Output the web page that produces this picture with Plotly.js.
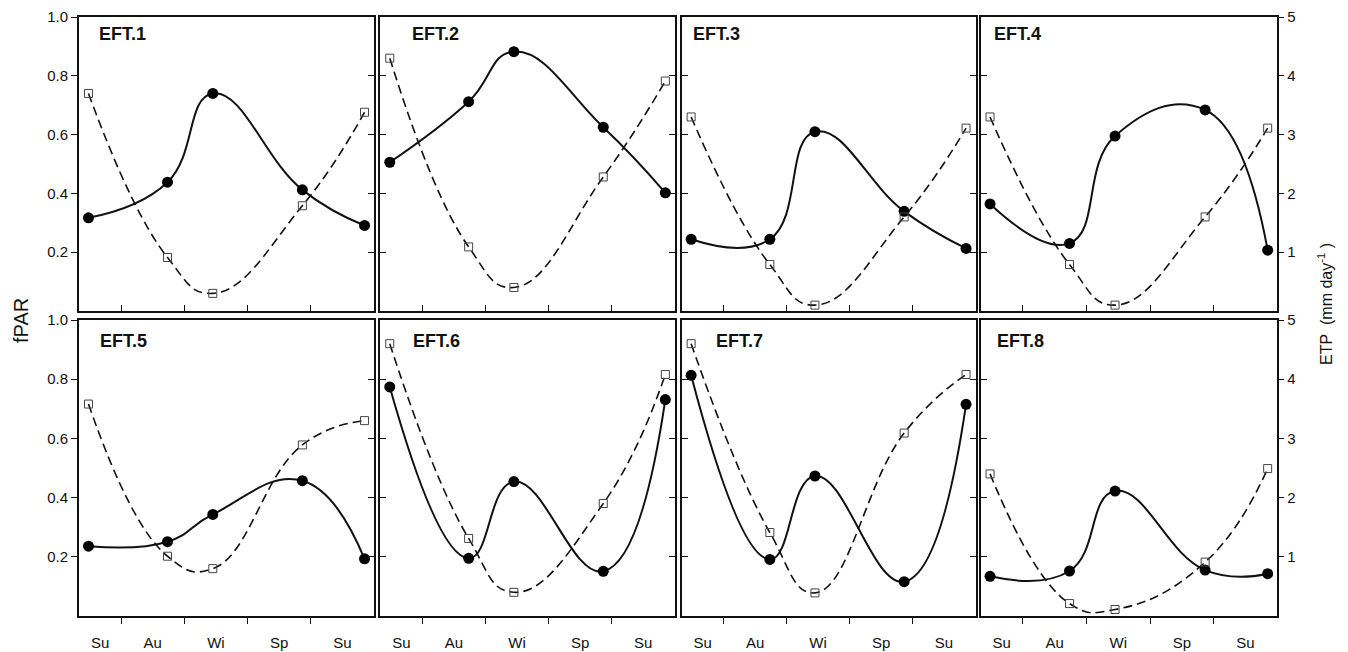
<!DOCTYPE html>
<html>
<head>
<meta charset="utf-8">
<script src="https://cdn.plot.ly/plotly-3.0.1.min.js"></script>
<style>html,body{margin:0;padding:0;background:#fff;}#chart{width:1348px;height:652px;}</style>
</head>
<body>
<div id="chart"></div>
<script>
// x positions of the observations (months from the left edge of each panel)
const months = [0.45, 4.2, 6.35, 10.6, 13.55];
const seasonLabels = ['Su', 'Au', 'Wi', 'Sp', 'Su'];
const seasonLabelPos = [1, 3.5, 6.5, 9.5, 12.5];
const seasonBounds = [2, 5, 8, 11];
const panelNames = ['EFT.1', 'EFT.2', 'EFT.3', 'EFT.4', 'EFT.5', 'EFT.6', 'EFT.7', 'EFT.8'];

// fPAR (filled circles, solid line)
const fpar1 = [0.317, 0.438, 0.740, 0.412, 0.291];
const fpar2 = [0.506, 0.712, 0.882, 0.625, 0.402];
const fpar3 = [0.244, 0.244, 0.610, 0.339, 0.213];
const fpar4 = [0.364, 0.230, 0.595, 0.684, 0.207];
const fpar5 = [0.236, 0.251, 0.343, 0.457, 0.193];
const fpar6 = [0.774, 0.195, 0.454, 0.151, 0.731];
const fpar7 = [0.813, 0.191, 0.473, 0.116, 0.715];
const fpar8 = [0.134, 0.152, 0.422, 0.155, 0.143];

// ETP (open squares, dashed line), mm day-1
const etp1 = [3.70, 0.91, 0.30, 1.79, 3.38];
const etp2 = [4.30, 1.09, 0.40, 2.28, 3.91];
const etp3 = [3.30, 0.79, 0.10, 1.60, 3.11];
const etp4 = [3.30, 0.79, 0.10, 1.60, 3.11];
const etp5 = [3.58, 1.01, 0.80, 2.89, 3.30];
const etp6 = [4.60, 1.31, 0.40, 1.90, 4.08];
const etp7 = [4.60, 1.41, 0.39, 3.09, 4.08];
const etp8 = [2.40, 0.21, 0.11, 0.91, 2.49];

const fparTicks = [0.2, 0.4, 0.6, 0.8, 1.0];
const etpTicks = [1, 2, 3, 4, 5];

const fparAll = [fpar1, fpar2, fpar3, fpar4, fpar5, fpar6, fpar7, fpar8];
const etpAll = [etp1, etp2, etp3, etp4, etp5, etp6, etp7, etp8];

const W = 1348, H = 652;
const colPx = [[79, 374], [380.3, 674.8], [681.7, 975.5], [980.5, 1277.2]];
const rowPx = [[17, 311], [320, 616]];
const labelPx = [[98.3, 34], [410.7, 34], [692.3, 34], [992.7, 34], [99.3, 341], [412.3, 341], [714.7, 341], [996, 341]];

const FONT = '"Liberation Sans", Arial, Helvetica, sans-serif';
const data = [];
const layout = {
  width: W, height: H, autosize: false,
  margin: {l: 0, r: 0, t: 0, b: 0},
  paper_bgcolor: '#fff', plot_bgcolor: 'rgba(0,0,0,0)',
  showlegend: false,
  font: {family: FONT, size: 15, color: '#111'},
  annotations: []
};

for (let k = 0; k < 8; k++) {
  const row = Math.floor(k / 4), col = k % 4;
  const xn = k + 1, yl = k + 1, yr = k + 9;
  const xd = [colPx[col][0] / W, colPx[col][1] / W];
  const yd = [1 - rowPx[row][1] / H, 1 - rowPx[row][0] / H];

  layout['xaxis' + xn] = {
    domain: xd, range: [0, 14], anchor: 'y' + yl,
    tickmode: 'array', tickvals: seasonLabelPos, ticktext: seasonLabels,
    ticks: '', showticklabels: row === 1, ticklabelstandoff: 12,
    tickfont: {size: 15, family: FONT, color: '#111'},
    minor: {tickmode: 'array', tickvals: seasonBounds, ticks: row === 0 ? 'inside' : 'outside',
            ticklen: 6, tickwidth: 1, tickcolor: '#111', showgrid: false},
    showline: true, mirror: true, linewidth: 2, linecolor: '#111',
    showgrid: false, zeroline: false, fixedrange: true
  };
  layout['yaxis' + yl] = {
    domain: yd, range: [0, 1], anchor: 'x' + xn,
    tickmode: 'array', tickvals: fparTicks, ticktext: fparTicks.map(v => v.toFixed(1)),
    ticks: col === 0 ? 'outside' : 'inside', ticklen: 6, tickwidth: 1, tickcolor: '#111',
    showticklabels: col === 0, tickfont: {size: 15, family: FONT, color: '#111'},
    showline: true, mirror: true, linewidth: 2, linecolor: '#111',
    showgrid: false, zeroline: false, fixedrange: true
  };
  layout['yaxis' + yr] = {
    range: [0, 5], anchor: 'x' + xn, overlaying: 'y' + yl, side: 'right',
    tickmode: 'array', tickvals: etpTicks, ticktext: etpTicks.map(String),
    ticks: col === 3 ? 'outside' : 'inside', ticklen: 6, tickwidth: 1, tickcolor: '#111',
    showticklabels: col === 3, tickfont: {size: 15, family: FONT, color: '#111'},
    showline: false, showgrid: false, zeroline: false, fixedrange: true
  };

  data.push({
    type: 'scatter', mode: 'lines+markers', x: months, y: etpAll[k],
    xaxis: 'x' + xn, yaxis: 'y' + yr,
    line: {shape: 'spline', smoothing: 1.3, color: '#111', width: 1.6, dash: '9px,5px'},
    marker: {symbol: 'square-open', size: 8, color: '#444', line: {width: 1, color: '#444'}},
    hoverinfo: 'skip'
  });
  data.push({
    type: 'scatter', mode: 'lines+markers', x: months, y: fparAll[k],
    xaxis: 'x' + xn, yaxis: 'y' + yl,
    line: {shape: 'spline', smoothing: 1.3, color: '#111', width: 2},
    marker: {symbol: 'circle', size: 11, color: '#000'},
    hoverinfo: 'skip'
  });

  layout.annotations.push({
    text: '<b>' + panelNames[k] + '</b>', xref: 'paper', yref: 'paper',
    x: labelPx[k][0] / W, y: 1 - labelPx[k][1] / H, xanchor: 'left', yanchor: 'middle',
    showarrow: false, borderpad: 0, font: {size: 18, family: FONT, color: '#111'}
  });
}

layout.annotations.push({
  text: 'fPAR', xref: 'paper', yref: 'paper', x: 21 / W, y: 1 - 321 / H,
  xanchor: 'center', yanchor: 'middle', textangle: -90, showarrow: false,
  font: {size: 20, family: FONT, color: '#111'}
});
layout.annotations.push({
  text: 'ETP\u00a0\u00a0(mm day<sup>-1</sup>\u00a0)', xref: 'paper', yref: 'paper', x: 1325 / W, y: 1 - 304 / H,
  xanchor: 'center', yanchor: 'middle', textangle: -90, showarrow: false,
  font: {size: 16, family: FONT, color: '#111'}
});

Plotly.newPlot('chart', data, layout, {displayModeBar: false, staticPlot: true});
</script>
</body>
</html>
